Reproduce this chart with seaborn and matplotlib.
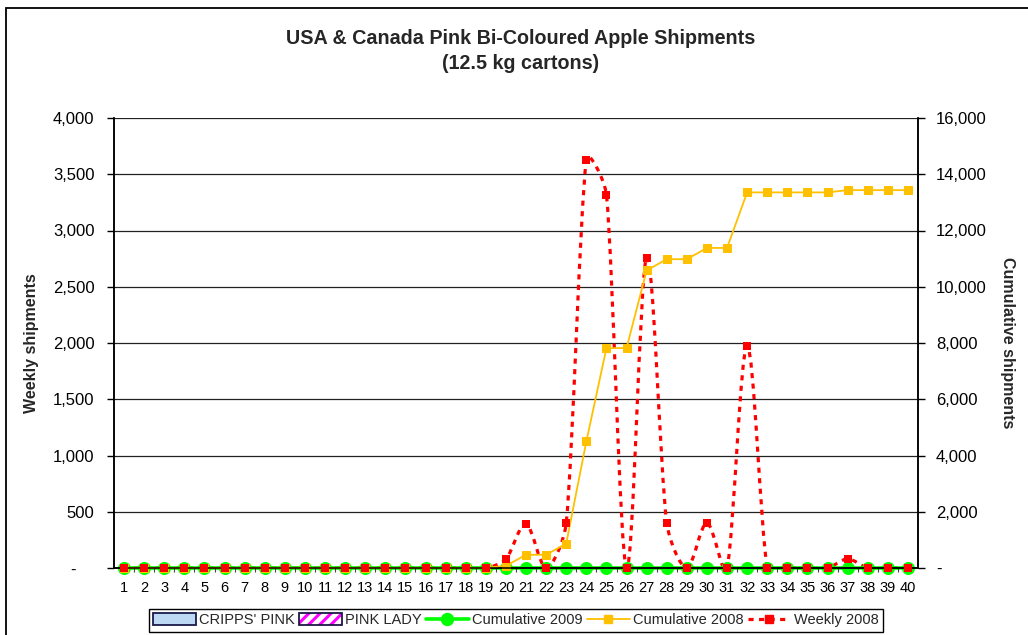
import matplotlib.pyplot as plt
import numpy as np
import seaborn as sns
from matplotlib.lines import Line2D
from matplotlib.patches import Patch, PathPatch, Rectangle
from matplotlib.path import Path
from matplotlib.legend_handler import HandlerTuple
from matplotlib.ticker import FuncFormatter, FixedLocator

# ── Style ─────────────────────────────────────────────────────────────────────
sns.set_theme(style="white")
plt.rcParams["font.family"] = ["Liberation Sans", "DejaVu Sans"]
plt.rcParams["hatch.linewidth"] = 2.2

RED    = "#ff0000"
GREEN  = "#00ff00"
GOLD   = "#ffc000"

# ── Data ──────────────────────────────────────────────────────────────────────
weeks = list(range(1, 41))

cripps_pink = [0, 0, 0, 0, 0, 0, 0, 0, 0, 0, 0, 0, 0, 0, 0, 0, 0, 0, 0, 0,
               0, 0, 0, 0, 0, 0, 0, 0, 0, 0, 0, 0, 0, 0, 0, 0, 0, 0, 0, 0]
pink_lady   = [0, 0, 0, 0, 0, 0, 0, 0, 0, 0, 0, 0, 0, 0, 0, 0, 0, 0, 0, 0,
               0, 0, 0, 0, 0, 0, 0, 0, 0, 0, 0, 0, 0, 0, 0, 0, 0, 0, 0, 0]

weekly_2008 = [0, 0, 0, 0, 0, 0, 0, 0, 0, 0, 0, 0, 0, 0, 0, 0, 0, 0, 0, 80,
               390, 0, 400, 3630, 3320, 0, 2760, 400, 0, 400,
               0, 1975, 0, 0, 0, 0, 80, 0, 0, 0]

cum_2008 = [0, 0, 0, 0, 0, 0, 0, 0, 0, 0, 0, 0, 0, 0, 0, 0, 0, 0, 0, 80,
            470, 470, 870, 4500, 7820, 7820, 10580, 10980, 10980, 11380,
            11380, 13355, 13355, 13355, 13355, 13355, 13435, 13435, 13435, 13435]

cum_2009 = [0, 0, 0, 0, 0, 0, 0, 0, 0, 0, 0, 0, 0, 0, 0, 0, 0, 0, 0, 0,
            0, 0, 0, 0, 0, 0, 0, 0, 0, 0, 0, 0, 0, 0, 0, 0, 0, 0, 0, 0]

left_ticks  = [0, 500, 1000, 1500, 2000, 2500, 3000, 3500, 4000]
right_ticks = [0, 2000, 4000, 6000, 8000, 10000, 12000, 14000, 16000]

# ── Figure ────────────────────────────────────────────────────────────────────
FIG_W, FIG_H = 1028, 635
AX_BOX = [114, 118, 918, 568]   # left, top, right, bottom in pixels
XLIM, YLIM = (0.5, 40.5), (0, 4000)

fig = plt.figure(figsize=(FIG_W / 100, FIG_H / 100), dpi=100)
fig.patch.set_facecolor("white")
ax = fig.add_axes([AX_BOX[0] / FIG_W, 1 - AX_BOX[3] / FIG_H,
                   (AX_BOX[2] - AX_BOX[0]) / FIG_W, (AX_BOX[3] - AX_BOX[1]) / FIG_H])
ax2 = ax.twinx()
ax.set_zorder(2)
ax2.set_zorder(1)
ax.patch.set_visible(False)

# bars (all zero this season)
ax2.bar(np.array(weeks) - 0.2, cripps_pink, width=0.4, color="#bcd8f2", linewidth=0)
ax2.bar(np.array(weeks) + 0.2, pink_lady, width=0.4, color="white", linewidth=0)


def smooth_path(xs, ys):
    """Excel-like smoothed line: Catmull-Rom Beziers worked out in screen
    proportions, with control arms capped at a third of each segment."""
    sx = (AX_BOX[2] - AX_BOX[0]) / (XLIM[1] - XLIM[0])
    sy = (AX_BOX[3] - AX_BOX[1]) / (YLIM[1] - YLIM[0])
    pts = np.column_stack([np.asarray(xs) * sx, np.asarray(ys) * sy]).astype(float)
    ext = np.vstack([pts[0], pts, pts[-1]])
    verts, codes = [pts[0]], [Path.MOVETO]
    for i in range(1, len(ext) - 2):
        p0, p1, p2, p3 = ext[i - 1], ext[i], ext[i + 1], ext[i + 2]
        seg = np.linalg.norm(p2 - p1)
        t1, t2 = (p2 - p0) / 6, (p3 - p1) / 6
        for t in (t1, t2):
            n = np.linalg.norm(t)
            if n > seg / 3:
                t *= (seg / 3) / n
        verts += [p1 + t1, p2 - t2, p2]
        codes += [Path.CURVE4] * 3
    verts = np.array(verts) / [sx, sy]
    return Path(verts, codes)


# weekly 2008 smoothed dotted line (left-axis units, drawn beneath cumulative)
patch = PathPatch(smooth_path(weeks, weekly_2008), transform=ax.transData,
                  fill=False, edgecolor=RED, lw=2.3, linestyle=(0, (1.6, 1.7)),
                  zorder=1.5)
ax2.add_patch(patch)

# cumulative series on right axis
sns.lineplot(x=weeks, y=cum_2009, ax=ax2, color=GREEN, lw=2.6, marker="o",
             markersize=8.6, markeredgecolor=GREEN, legend=False, zorder=2,
             clip_on=False)
sns.lineplot(x=weeks, y=cum_2008, ax=ax2, color=GOLD, lw=1.3, marker="s",
             markersize=5.5, markeredgecolor=GOLD, legend=False, zorder=3,
             clip_on=False)

# weekly markers on top
sns.scatterplot(x=weeks, y=weekly_2008, ax=ax, color=RED, marker="s", s=33,
                edgecolor=RED, linewidth=0, legend=False, zorder=4, clip_on=False)

# ── Axes ──────────────────────────────────────────────────────────────────────
ax.set_xlim(*XLIM)
ax.set_ylim(*YLIM)
ax2.set_ylim(0, 16000)

ax.set_yticks(left_ticks)
ax2.set_yticks(right_ticks)
ax.yaxis.set_major_formatter(FuncFormatter(lambda v, p: "-    " if v == 0 else f"{v:,.0f}"))
ax2.yaxis.set_major_formatter(FuncFormatter(lambda v, p: "-" if v == 0 else f"{v:,.0f}"))

ax.set_xticks(weeks)
ax.set_xticklabels([str(w) for w in weeks])
ax.xaxis.set_minor_locator(FixedLocator(np.arange(1.5, 40.5, 1)))
ax.tick_params(axis="x", which="major", length=0, pad=9, labelsize=10.5, colors="black")
ax.tick_params(axis="x", which="minor", bottom=True, length=3, width=0.8, color="#444444")
ax.tick_params(axis="y", left=True, length=5, width=1, pad=9, labelsize=12, colors="black")
ax2.tick_params(axis="y", right=True, length=5, width=1, pad=8, labelsize=12, colors="black")

ax2.yaxis.grid(True, color="#222222", lw=0.9)
ax.xaxis.grid(False)
ax.yaxis.grid(False)

for a in (ax, ax2):
    for side in ("left", "right", "bottom"):
        a.spines[side].set_visible(True)
        a.spines[side].set_color("black")
        a.spines[side].set_linewidth(1.1)
    a.spines["top"].set_visible(False)

ax.set_ylabel("Weekly shipments", fontsize=11.5, fontweight="bold", labelpad=10)
ax2.set_ylabel("Cumulative shipments", fontsize=11.5, fontweight="bold",
               rotation=270, labelpad=20)
ax.set_xlabel("")

fig.text(0.506, 1 - 51 / 635,
         "USA & Canada Pink Bi-Coloured Apple Shipments\n(12.5 kg cartons)",
         ha="center", va="center", fontsize=14.2, fontweight="bold", linespacing=1.45)

# outer chart border
fig.add_artist(Rectangle((6 / 1028, -0.1), 1.2, 1.1 - 8 / 635, transform=fig.transFigure,
                         fill=False, edgecolor="black", lw=1.3))

# ── Legend ────────────────────────────────────────────────────────────────────
handles = [
    Patch(facecolor="#bcd8f2", edgecolor="#1a1a4a", lw=1.3),
    (Patch(facecolor="white", edgecolor="#ff00ff", hatch="///", lw=0),
     Patch(fill=False, edgecolor="#1a1a4a", lw=1.3)),
    Line2D([], [], color=GREEN, lw=2.6, marker="o", markersize=8.6),
    Line2D([], [], color=GOLD, lw=1.3, marker="s", markersize=5.5),
    Line2D([], [], color=RED, lw=2.3, linestyle=(0, (1.6, 1.7)), marker="s", markersize=6),
]
labels = ["CRIPPS' PINK", "PINK LADY", "Cumulative 2009", "Cumulative 2008", "Weekly 2008"]
leg = fig.legend(handles, labels, loc="lower center", bbox_to_anchor=(0.502, -0.006),
                 ncol=5, fontsize=10.5, frameon=True, fancybox=False, framealpha=1,
                 edgecolor="black", handlelength=2.9, handleheight=0.9,
                 handletextpad=0.25, columnspacing=0.3, borderpad=0.3,
                 handler_map={tuple: HandlerTuple(ndivide=1, pad=0)})
leg.get_frame().set_linewidth(1.0)

fig.savefig("out.png", dpi=100, facecolor="white")
plt.close()
